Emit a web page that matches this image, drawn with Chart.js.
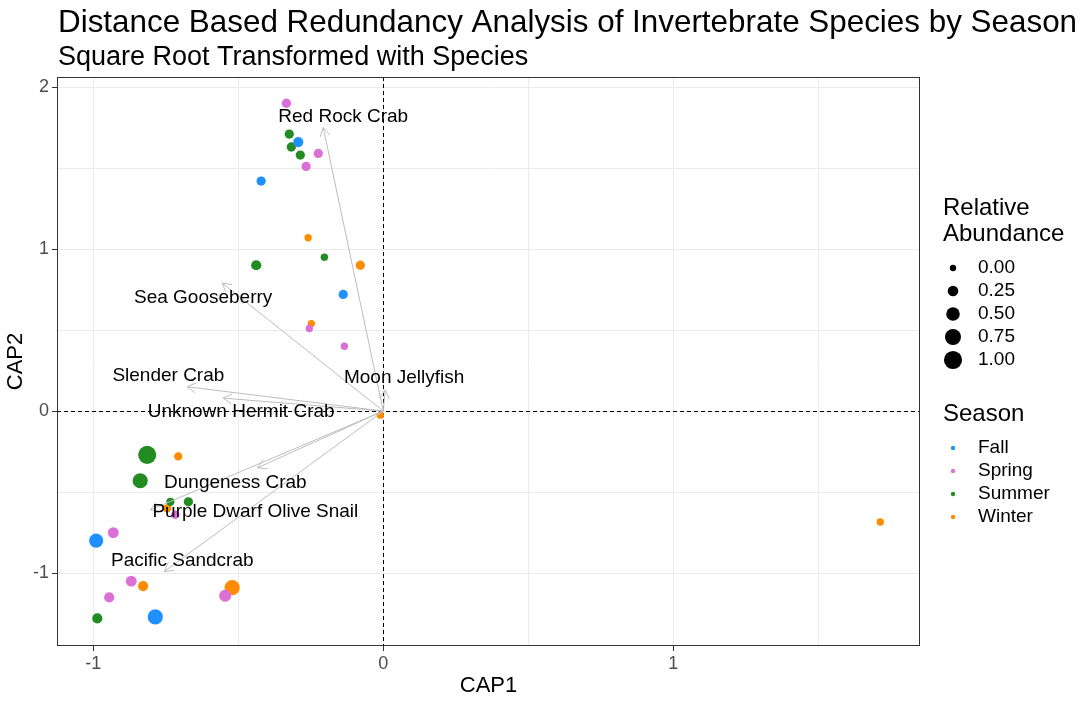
<!DOCTYPE html>
<html>
<head>
<meta charset="utf-8">
<script src="https://cdn.jsdelivr.net/npm/chart.js@4.4.1/dist/chart.umd.min.js"></script>
<style>
  html, body { margin: 0; padding: 0; background: #fff; }
  #wrap { width: 1080px; height: 702px; position: relative; }
</style>
</head>
<body>
<div id="wrap"><canvas id="capChart"></canvas></div>
<script>
// --- data ---
const seasons = ["Fall", "Spring", "Summer", "Winter"];
const seasonColors = ["#1E90FF", "#DA70D6", "#228B22", "#FF8C00"];

const fallX = [-0.293, -0.421, -0.138, -0.990, -0.786];
const fallY = [1.66, 1.42, 0.72, -0.80, -1.27];
const fallAbund = [0.22, 0.16, 0.16, 0.56, 0.66];

const springX = [-0.334, -0.224, -0.266, -0.255, -0.134, -0.717, -0.931, -0.869, -0.545, -0.945];
const springY = [1.90, 1.59, 1.51, 0.51, 0.40, -0.64, -0.75, -1.05, -1.14, -1.15];
const springAbund = [0.16, 0.16, 0.16, 0.05, 0.05, 0.10, 0.27, 0.27, 0.37, 0.22];

const summerX = [-0.324, -0.317, -0.286, -0.203, -0.438, -0.814, -0.838, -0.734, -0.672, -0.986];
const summerY = [1.71, 1.63, 1.58, 0.95, 0.90, -0.27, -0.43, -0.56, -0.56, -1.28];
const summerAbund = [0.16, 0.16, 0.16, 0.05, 0.22, 1.00, 0.66, 0.10, 0.16, 0.22];

const winterX = [-0.259, -0.079, -0.248, -0.010, -0.707, -0.745, -0.828, -0.521, 1.714];
const winterY = [1.07, 0.90, 0.54, -0.025, -0.28, -0.60, -1.08, -1.09, -0.685];
const winterAbund = [0.05, 0.16, 0.05, 0.05, 0.10, 0.10, 0.22, 0.66, 0.05];

// species vectors (arrow tips) and their label positions
const species = ["Red Rock Crab", "Sea Gooseberry", "Slender Crab", "Unknown Hermit Crab",
                 "Moon Jellyfish", "Dungeness Crab", "Purple Dwarf Olive Snail", "Pacific Sandcrab"];
const arrowX = [-0.207, -0.555, -0.676, -0.552, 0.007, -0.434, -0.803, -0.755];
const arrowY = [1.75, 0.79, 0.15, 0.08, 0.13, -0.35, -0.61, -0.99];
const labelX = [-0.138, -0.621, -0.741, -0.490, 0.072, -0.510, -0.441, -0.693];
const labelY = [1.815, 0.700, 0.216, -0.006, 0.204, -0.444, -0.623, -0.926];

const sizeBreaks = [0.00, 0.25, 0.50, 0.75, 1.00];
const xTicks = [-1, 0, 1];
const yTicks = [-1, 0, 1, 2];

// area-proportional radius like scale_size
const radiusFor = (v) => Math.sqrt(10 + 72 * v);

const seriesX = [fallX, springX, summerX, winterX];
const seriesY = [fallY, springY, summerY, winterY];
const seriesA = [fallAbund, springAbund, summerAbund, winterAbund];

const datasets = seasons.map((name, i) => ({
    label: name,
    data: seriesX[i].map((x, j) => ({ x, y: seriesY[i][j], a: seriesA[i][j] })),
    backgroundColor: seasonColors[i],
    borderColor: seasonColors[i],
    borderWidth: 0,
    pointRadius: (ctx) => ctx.raw ? radiusFor(ctx.raw.a) : 3,
    pointHoverRadius: (ctx) => ctx.raw ? radiusFor(ctx.raw.a) : 3,
}));

const FONT = "'Liberation Sans', Arial, sans-serif";

const decorations = {
    id: "decorations",
    beforeDatasetsDraw(chart) {
        const { ctx, chartArea: a, scales: { x, y } } = chart;
        ctx.save();
        ctx.strokeStyle = "#000";
        ctx.lineWidth = 1;
        ctx.setLineDash([4, 3]);
        const x0 = Math.round(x.getPixelForValue(0)) + 0.5;
        const y0 = Math.round(y.getPixelForValue(0)) + 0.5;
        ctx.beginPath();
        ctx.moveTo(x0, a.top); ctx.lineTo(x0, a.bottom);
        ctx.moveTo(a.left, y0); ctx.lineTo(a.right, y0);
        ctx.stroke();
        ctx.restore();
    },
    afterDatasetsDraw(chart) {
        const { ctx, scales: { x, y } } = chart;
        const ox = x.getPixelForValue(0), oy = y.getPixelForValue(0);
        ctx.save();
        ctx.strokeStyle = "#bdbdbd";
        ctx.lineWidth = 1;
        species.forEach((_, i) => {
            const tx = x.getPixelForValue(arrowX[i]);
            const ty = y.getPixelForValue(arrowY[i]);
            const ang = Math.atan2(ty - oy, tx - ox);
            const L = 10, spread = Math.PI / 6;
            ctx.beginPath();
            ctx.moveTo(ox, oy); ctx.lineTo(tx, ty);
            ctx.moveTo(tx - L * Math.cos(ang - spread), ty - L * Math.sin(ang - spread));
            ctx.lineTo(tx, ty);
            ctx.lineTo(tx - L * Math.cos(ang + spread), ty - L * Math.sin(ang + spread));
            ctx.stroke();
        });
        ctx.fillStyle = "#000";
        ctx.font = `19px ${FONT}`;
        ctx.textAlign = "center";
        ctx.textBaseline = "middle";
        species.forEach((name, i) => {
            ctx.fillText(name, x.getPixelForValue(labelX[i]), y.getPixelForValue(labelY[i]));
        });
        ctx.restore();
    },
    afterDraw(chart) {
        const { ctx, chartArea: a } = chart;
        ctx.save();
        // panel border
        ctx.strokeStyle = "#333";
        ctx.lineWidth = 1;
        ctx.strokeRect(Math.round(a.left) + 0.5, Math.round(a.top) + 0.5,
                       Math.round(a.right - a.left) - 1, Math.round(a.bottom - a.top) - 1);

        // titles
        ctx.fillStyle = "#000";
        ctx.textAlign = "left";
        ctx.textBaseline = "alphabetic";
        ctx.font = `31.4px ${FONT}`;
        ctx.fillText("Distance Based Redundancy Analysis of Invertebrate Species by Season", 58, 32);
        ctx.font = `27px ${FONT}`;
        ctx.fillText("Square Root Transformed with Species", 58, 65);

        // size legend
        ctx.textBaseline = "middle";
        const lx = 943, dotX = 953, textX = 978;
        ctx.font = `24px ${FONT}`;
        ctx.fillText("Relative", lx, 208);
        ctx.fillText("Abundance", lx, 234);
        ctx.font = `19px ${FONT}`;
        sizeBreaks.forEach((v, i) => {
            const cy = 268 + i * 23;
            ctx.beginPath();
            ctx.arc(dotX, cy, radiusFor(v), 0, Math.PI * 2);
            ctx.fill();
            ctx.fillText(v.toFixed(2), textX, cy);
        });

        // season legend
        ctx.font = `24px ${FONT}`;
        ctx.fillText("Season", lx, 414);
        ctx.font = `19px ${FONT}`;
        seasons.forEach((s, i) => {
            const cy = 448 + i * 23;
            ctx.fillStyle = seasonColors[i];
            ctx.beginPath();
            ctx.arc(dotX, cy, 2.2, 0, Math.PI * 2);
            ctx.fill();
            ctx.fillStyle = "#000";
            ctx.fillText(s, textX, cy);
        });
        ctx.restore();
    },
};

const isMajor = (v, list) => list.some((t) => Math.abs(t - v) < 1e-9);

const gridFor = (list) => ({
    color: "#ebebeb",
    lineWidth: 1,
    drawTicks: true,
    tickLength: 5,
    tickColor: (ctx) => (ctx.tick && isMajor(ctx.tick.value, list) ? "#333" : "rgba(0,0,0,0)"),
    tickWidth: 1,
});

new Chart(document.getElementById("capChart"), {
    type: "scatter",
    data: { datasets },
    plugins: [decorations],
    options: {
        responsive: true,
        maintainAspectRatio: false,
        animation: false,
        layout: { padding: { top: 77, right: 160, left: 0, bottom: 0 } },
        plugins: { legend: { display: false }, tooltip: { enabled: false } },
        scales: {
            x: {
                type: "linear",
                min: -1.125,
                max: 1.851,
                border: { display: false },
                grid: gridFor(xTicks),
                ticks: {
                    stepSize: 0.5,
                    includeBounds: false,
                    autoSkip: false,
                    maxRotation: 0,
                    padding: 2,
                    color: "#4d4d4d",
                    font: { family: FONT, size: 18 },
                    callback: (v) => (isMajor(v, xTicks) ? String(v) : ""),
                },
                title: {
                    display: true,
                    text: "CAP1",
                    color: "#000",
                    font: { family: FONT, size: 22 },
                    padding: { top: 0, bottom: 3 },
                },
                afterFit: (s) => { s.height = 56; },
            },
            y: {
                type: "linear",
                min: -1.45,
                max: 2.062,
                border: { display: false },
                grid: gridFor(yTicks),
                ticks: {
                    stepSize: 0.5,
                    includeBounds: false,
                    autoSkip: false,
                    padding: 3,
                    color: "#4d4d4d",
                    font: { family: FONT, size: 18 },
                    callback: (v) => (isMajor(v, yTicks) ? String(v) : ""),
                },
                title: {
                    display: true,
                    text: "CAP2",
                    color: "#000",
                    font: { family: FONT, size: 22 },
                    padding: { top: 3, bottom: 0 },
                },
                afterFit: (s) => { s.width = 57; },
            },
        },
    },
});
</script>
</body>
</html>
